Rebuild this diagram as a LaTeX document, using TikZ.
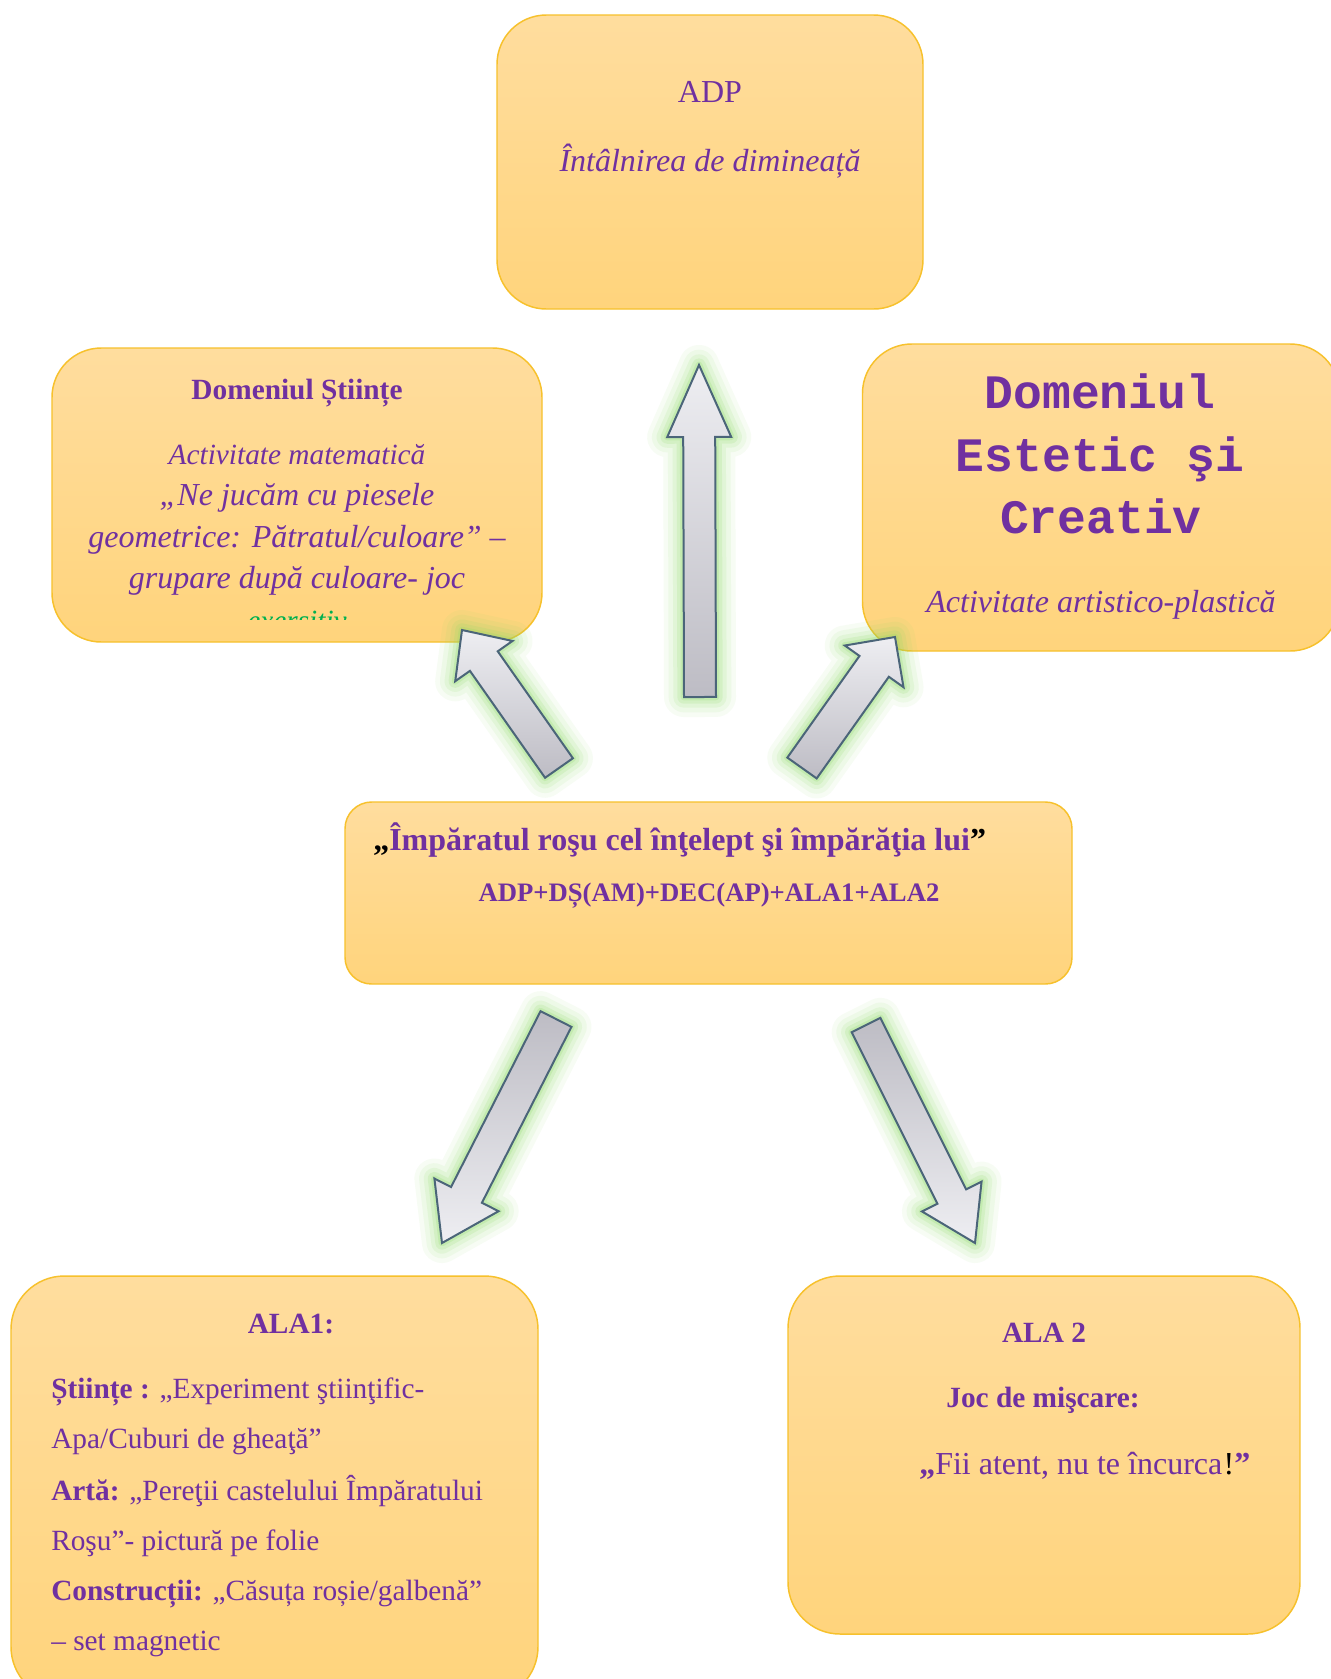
\documentclass[tikz,border=0pt]{standalone}
\usepackage{fontspec}
\setmainfont{Liberation Serif}
\newfontfamily\courfont{Liberation Mono}
\usetikzlibrary{calc}
\definecolor{purp}{HTML}{7030A0}
\definecolor{boxtop}{HTML}{FFDD9E}
\definecolor{boxbot}{HTML}{FFD47C}
\definecolor{boxedge}{HTML}{F7C12C}
\definecolor{arrlight}{HTML}{EEEEF2}
\definecolor{arrdark}{HTML}{BDBCC4}
\definecolor{arredge}{HTML}{4B6579}
\definecolor{glowc}{HTML}{8EDB66}
\definecolor{grn}{HTML}{00B050}
\newcommand{\fsz}[2]{\fontsize{#1}{#2}\selectfont}
\newcommand{\blockarr}[7]{%
  \coordinate (#2b) at ($(#2)!#5!(#1)$);
  \coordinate (#2q1) at ($(#1)!#3!90:(#2)$);
  \coordinate (#2q2) at ($(#2b)!#3!-90:(#1)$);
  \coordinate (#2q3) at ($(#2b)!#4!-90:(#1)$);
  \coordinate (#2q4) at ($(#2b)!#4!90:(#1)$);
  \coordinate (#2q5) at ($(#2b)!#3!90:(#1)$);
  \coordinate (#2q6) at ($(#1)!#3!-90:(#2)$);
  \foreach \lw/\op in {30/0.07,23/0.09,16/0.12,10/0.16,5/0.22}{
    \draw[glowc, line width=\lw pt, draw opacity=\op, line join=round]
      (#2q1) -- (#2q2) -- (#2q3) -- (#2) -- (#2q4) -- (#2q5) -- (#2q6) -- cycle;}
  \draw[arredge, line width=1.5pt, line join=miter, top color=#6, bottom color=#7]
      (#2q1) -- (#2q2) -- (#2q3) -- (#2) -- (#2q4) -- (#2q5) -- (#2q6) -- cycle;
}
\begin{document}
\begin{tikzpicture}[x=0.75pt,y=-0.75pt,
  box/.style={draw=boxedge, line width=1.1pt, top color=boxtop, bottom color=boxbot, rectangle, inner sep=0pt},
  txt/.style={inner sep=0pt, text=purp, anchor=base},
  txtl/.style={inner sep=0pt, text=purp, anchor=base west}]
\useasboundingbox (0,0) rectangle (1331,1679);
\fill[white] (0,0) rectangle (1331,1679);

% boxes
\node[box, rounded corners=37pt, minimum width=319.5pt, minimum height=220.5pt] (adpbox) at (710,162) {};
\node[box, rounded corners=37pt, minimum width=367.5pt, minimum height=220.5pt] (dsbox) at (297,495) {};
\node[box, rounded corners=37pt, minimum width=357.75pt, minimum height=230.25pt] (decbox) at (1101,497.5) {};
\node[box, rounded corners=20pt, minimum width=545.25pt, minimum height=136.5pt] (centerbox) at (708.5,893) {};
\node[box, rounded corners=40pt, minimum width=395.25pt, minimum height=318pt] (ala1box) at (274.5,1488) {};
\node[box, rounded corners=39pt, minimum width=384pt, minimum height=268.5pt] (ala2box) at (1044,1455) {};

% arrows
\coordinate (a1t) at (700,697); \coordinate (a1p) at (699,365);
\coordinate (a2t) at (559,768); \coordinate (a2p) at (462,630);
\coordinate (a3t) at (802,768); \coordinate (a3p) at (895,637);
\coordinate (a4t) at (556,1019); \coordinate (a4p) at (442,1243);
\coordinate (a5t) at (866,1025); \coordinate (a5p) at (975,1243);
\blockarr{a1t}{a1p}{12pt}{24pt}{54pt}{arrlight}{arrdark}
\blockarr{a2t}{a2p}{12.75pt}{26.25pt}{28.5pt}{arrlight}{arrdark}
\blockarr{a3t}{a3p}{13.5pt}{27pt}{27pt}{arrlight}{arrdark}
\blockarr{a4t}{a4p}{13pt}{27pt}{40.5pt}{arrdark}{arrlight}
\blockarr{a5t}{a5p}{12pt}{25pt}{39pt}{arrdark}{arrlight}

% top box text
\node[txt, font=\fsz{24}{28}] (adp) at (710,102) {ADP};
\node[txt, font=\fsz{24}{28}\itshape] (adpsub) at (710,171) {Întâlnirea de dimineață};

% left box text
\node[txt, font=\fsz{22}{26}\bfseries] (dstitle) at (297,399) {Domeniul Științe};
\node[txt, font=\fsz{22}{26}\itshape] (ds1) at (297,464) {Activitate matematică};
\node[txt, font=\fsz{24}{28}\itshape] (ds2) at (297,505) {„Ne jucăm cu piesele};
\node[txt, font=\fsz{24}{28}\itshape] (ds3) at (297,547) {geometrice: Pătratul/culoare” –};
\node[txt, font=\fsz{24}{28}\itshape] (ds4) at (297,588) {grupare după culoare- joc};
\begin{scope}
\clip (0,0) rectangle (1331,619.5);
\node[txt, text=grn, font=\fsz{22}{26}\itshape] (ds5) at (297,630) {exersitiv};
\end{scope}

% right box text
\node[txt, font=\courfont\bfseries\fsz{36}{40}] (dec1) at (1100,408) {Domeniul};
\node[txt, font=\courfont\bfseries\fsz{36}{40}] (dec2) at (1100,471) {Estetic şi};
\node[txt, font=\courfont\bfseries\fsz{36}{40}] (dec3) at (1101,533) {Creativ};
\node[txt, font=\fsz{24}{28}\itshape] (dec4) at (1101,612) {Activitate artistico-plastică};

% center box text
\node[txtl, font=\fsz{24}{28}\bfseries] (title) at (373,850) {\textcolor{black}{„}Împăratul roşu cel înţelept şi împărăţia lui\textcolor{black}{”}};
\node[txt, font=\fsz{20}{24}\bfseries] (formula) at (709,901) {ADP+DȘ(AM)+DEC(AP)+ALA1+ALA2};

% ALA1 text
\node[txt, font=\fsz{22}{26}\bfseries] (ala1t) at (291,1333) {ALA1:};
\node[txtl, font=\fsz{22}{26}] (ala1a) at (51,1398) {\textbf{Științe :} „Experiment ştiinţific-};
\node[txtl, font=\fsz{22}{26}] (ala1b) at (51,1448) {Apa/Cuburi de gheaţă”};
\node[txtl, font=\fsz{22}{26}] (ala1c) at (51,1500) {\textbf{Artă:} „Pereţii castelului Împăratului};
\node[txtl, font=\fsz{22}{26}] (ala1d) at (51,1550) {Roşu”- pictură pe folie};
\node[txtl, font=\fsz{22}{26}] (ala1e) at (51,1600) {\textbf{Construcții:} „Căsuța roșie/galbenă”};
\node[txtl, font=\fsz{22}{26}] (ala1f) at (51,1650) {– set magnetic};

% ALA2 text
\node[txt, font=\fsz{22}{26}\bfseries] (ala2t) at (1044,1342) {ALA 2};
\node[txt, font=\fsz{22}{26}\bfseries] (ala2j) at (1043,1407) {Joc de mişcare:};
\node[txtl, font=\fsz{24}{28}] (ala2q) at (919,1474) {\textbf{„}Fii atent, nu te încurca\kern1pt\textcolor{black}{!}\textbf{”}};
\end{tikzpicture}
\end{document}
